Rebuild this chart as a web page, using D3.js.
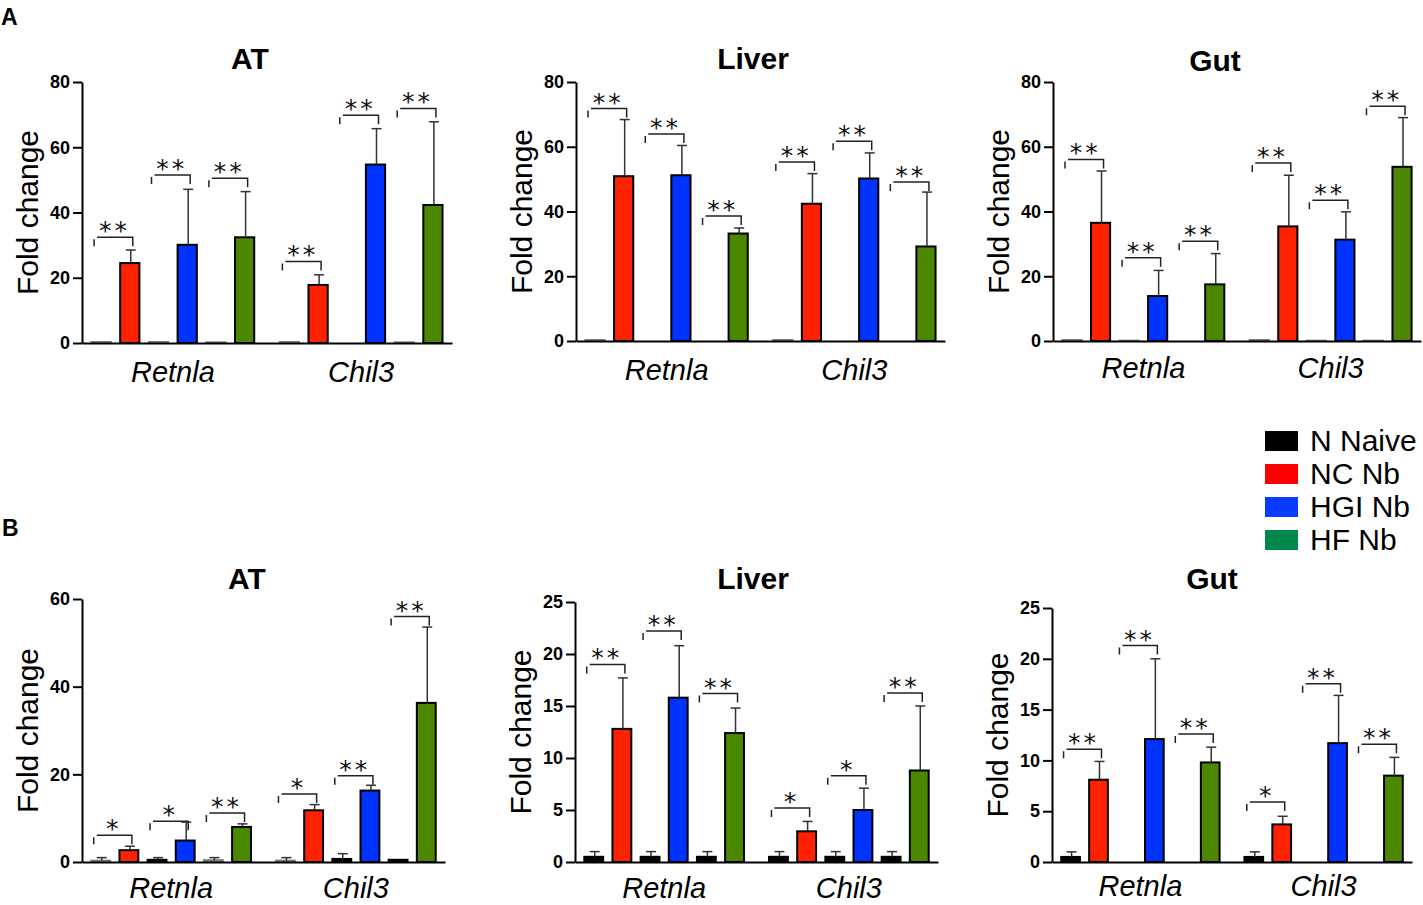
<!DOCTYPE html>
<html>
<head>
<meta charset="utf-8">
<script src="https://cdn.jsdelivr.net/npm/d3@7"></script>
<style>
  body { margin: 0; background: #fff; }
  svg { display: block; }
  text { font-family: "Liberation Sans", Arial, sans-serif; }
</style>
</head>
<body>
<div id="chart"></div>
<script>
// Categories
var genes = ["Retnla", "Chil3"];
var groupNames = ["N Naive", "NC Nb", "HGI Nb", "HF Nb"];
// bar order inside each gene: Naive, NC, Naive, HGI, Naive, HF
var barGroups = [0, 1, 0, 2, 0, 3];

var ticksA = [0, 20, 40, 60, 80];
var ticksBAt = [0, 20, 40, 60];
var ticksB = [0, 5, 10, 15, 20, 25];

// Panel A (12 values: Retnla x6 then Chil3 x6), bracket level, stars
var aAtMean = [0.3, 24.5, 0.3, 30.1, 0.2, 32.4, 0.3, 17.8, 0, 54.7, 0.2, 42.3];
var aAtErr = [0, 4.0, 0, 17.0, 0, 14.0, 0, 3.1, 0, 11.0, 0, 25.5];
var aAtSig = [32.4, 51.5, 50.5, 25.0, 69.8, 71.9];
var aAtStars = ["**", "**", "**", "**", "**", "**"];

var aLiverMean = [0.3, 50.9, 0, 51.2, 0, 33.2, 0.3, 42.4, 0, 50.2, 0, 29.2];
var aLiverErr = [0, 17.5, 0, 9.2, 0, 1.7, 0, 9.3, 0, 7.9, 0, 16.8];
var aLiverSig = [71.8, 63.9, 38.6, 55.3, 61.7, 49.1];
var aLiverStars = ["**", "**", "**", "**", "**", "**"];

var aGutMean = [0.3, 36.5, 0.1, 13.9, 0, 17.5, 0.3, 35.4, 0.1, 31.3, 0.1, 53.8];
var aGutErr = [0, 16.0, 0, 7.9, 0, 9.5, 0, 15.8, 0, 8.6, 0, 15.2];
var aGutSig = [56.1, 25.7, 30.8, 55.0, 43.5, 72.5];
var aGutStars = ["**", "**", "**", "**", "**", "**"];

// Panel B
var bAtMean = [0.3, 2.7, 0.5, 4.9, 0.4, 8.0, 0.3, 11.8, 0.7, 16.3, 0.5, 36.3];
var bAtErr = [0.7, 0.9, 0.5, 4.2, 0.6, 0.7, 0.7, 1.3, 1.2, 1.2, 0, 17.3];
var bAtSig = [6.1, 9.3, 11.2, 15.5, 19.7, 56.0];
var bAtStars = ["*", "*", "**", "*", "**", "**"];

var bLiverMean = [0.5, 12.8, 0.5, 15.8, 0.5, 12.4, 0.5, 2.95, 0.5, 5.0, 0.5, 8.8];
var bLiverErr = [0.5, 4.9, 0.5, 5.0, 0.5, 2.4, 0.5, 0.95, 0.5, 2.1, 0.5, 6.2];
var bLiverSig = [19.0, 22.2, 16.2, 5.2, 8.3, 16.25];
var bLiverStars = ["**", "**", "**", "*", "*", "**"];

var bGutMean = [0.5, 8.1, 0, 12.1, 0, 9.8, 0.5, 3.7, 0, 11.7, 0, 8.5];
var bGutErr = [0.5, 1.8, 0, 7.9, 0, 1.5, 0.5, 0.8, 0, 4.7, 0, 1.8];
var bGutSig = [11.1, 21.3, 12.6, 5.9, 17.55, 11.6];
var bGutStars = ["**", "**", "**", "*", "**", "**"];

var barColors = ["#000000", "#ff2200", "#0033ff", "#4b8700"];
var legendColors = ["#000000", "#ff0000", "#0a3cff", "#00884a"];

var width = 1423, height = 905;

var svg = d3.select("#chart").append("svg")
    .attr("width", width)
    .attr("height", height);

// Panel frames
var panels = [
    { title: "AT", titleX: 250, titleY: 69, x0: 82, x1: 452, y0: 343, y1: 82, max: 80, ticks: ticksA, labPad: 18,
      mean: aAtMean, err: aAtErr, sig: aAtSig, stars: aAtStars },
    { title: "Liver", titleX: 753, titleY: 69, x0: 576, x1: 945, y0: 341, y1: 82, max: 80, ticks: ticksA, labPad: 18,
      mean: aLiverMean, err: aLiverErr, sig: aLiverSig, stars: aLiverStars },
    { title: "Gut", titleX: 1215, titleY: 71, x0: 1053, x1: 1421, y0: 341, y1: 82, max: 80, ticks: ticksA, labPad: 16,
      mean: aGutMean, err: aGutErr, sig: aGutSig, stars: aGutStars },
    { title: "AT", titleX: 247, titleY: 589, x0: 82, x1: 445, y0: 862, y1: 599, max: 60, ticks: ticksBAt, labPad: 15,
      mean: bAtMean, err: bAtErr, sig: bAtSig, stars: bAtStars },
    { title: "Liver", titleX: 753, titleY: 589, x0: 575, x1: 938, y0: 862, y1: 602, max: 25, ticks: ticksB, labPad: 15,
      mean: bLiverMean, err: bLiverErr, sig: bLiverSig, stars: bLiverStars },
    { title: "Gut", titleX: 1212, titleY: 589, x0: 1052, x1: 1412, y0: 862, y1: 608, max: 25, ticks: ticksB, labPad: 13,
      mean: bGutMean, err: bGutErr, sig: bGutSig, stars: bGutStars }
];

panels.forEach(function (p) {
    var g = svg.append("g");

    var y = d3.scaleLinear().domain([0, p.max]).range([p.y0, p.y1]);
    var gx = d3.scaleBand().domain(genes).range([p.x0, p.x1]).paddingInner(0.035).paddingOuter(0);
    var bx = d3.scaleBand().domain(d3.range(6)).range([0, gx.bandwidth()]).padding(0.33);
    var bw = bx.bandwidth();

    var bars = [];
    genes.forEach(function (gene, gi) {
        barGroups.forEach(function (k, j) {
            var i = gi * 6 + j;
            bars.push({ gene: gene, slot: j, group: k, mean: p.mean[i], err: p.err[i] });
        });
    });
    function cx(gene, slot) { return gx(gene) + bx(slot) + bw / 2; }

    // Title
    g.append("text")
        .attr("x", p.titleX)
        .attr("y", p.titleY)
        .attr("text-anchor", "middle")
        .style("font-size", "30px")
        .style("font-weight", "bold")
        .text(p.title);

    // Bars
    g.selectAll(".bar")
        .data(bars.filter(function (d) { return d.mean > 0; }))
        .enter().append("rect")
        .attr("class", "bar")
        .attr("x", function (d) { return cx(d.gene, d.slot) - bw / 2; })
        .attr("width", bw)
        .attr("y", function (d) { return y(d.mean); })
        .attr("height", function (d) { return y(0) - y(d.mean); })
        .attr("fill", function (d) { return barColors[d.group]; })
        .attr("stroke", function (d) { return y(0) - y(d.mean) < 2 ? "#777" : "#000"; })
        .attr("stroke-width", 2);

    // Error bars (upper only)
    var eb = g.selectAll(".err")
        .data(bars.filter(function (d) { return d.err > 0; }))
        .enter().append("g")
        .attr("class", "err")
        .attr("stroke", "#333")
        .attr("stroke-width", 1.5);
    eb.append("line")
        .attr("x1", function (d) { return cx(d.gene, d.slot) + 1; })
        .attr("x2", function (d) { return cx(d.gene, d.slot) + 1; })
        .attr("y1", function (d) { return y(d.mean); })
        .attr("y2", function (d) { return y(d.mean + d.err); });
    eb.append("line")
        .attr("x1", function (d) { return cx(d.gene, d.slot) - 4; })
        .attr("x2", function (d) { return cx(d.gene, d.slot) + 6; })
        .attr("y1", function (d) { return y(d.mean + d.err); })
        .attr("y2", function (d) { return y(d.mean + d.err); });

    // Significance brackets
    var sigs = p.sig.map(function (v, k) {
        var gene = genes[Math.floor(k / 3)];
        var s = (k % 3) * 2;
        return { xa: cx(gene, s) - 7, xb: cx(gene, s + 1) + 3, level: v, stars: p.stars[k] };
    });
    g.selectAll(".bracket")
        .data(sigs)
        .enter().append("path")
        .attr("class", "bracket")
        .attr("fill", "none")
        .attr("stroke", "#222")
        .attr("stroke-width", 1.5)
        .attr("d", function (d) {
            var yy = y(d.level);
            return "M" + d.xa + "," + (yy + 9) + "V" + (yy + 2) +
                "M" + (d.xa + 3) + "," + yy + "H" + d.xb + "V" + (yy + 9);
        });
    g.selectAll(".stars")
        .data(sigs)
        .enter().append("text")
        .attr("class", "stars")
        .attr("x", function (d) { return (d.xa + d.xb) / 2 + 1; })
        .attr("y", function (d) { return y(d.level) + 2; })
        .attr("text-anchor", "middle")
        .style("font-family", "'DejaVu Sans', sans-serif")
        .style("font-size", "25px")
        .style("letter-spacing", "3px")
        .attr("fill", "#111")
        .text(function (d) { return d.stars; });

    // Y axis
    var yAxis = g.append("g")
        .attr("transform", "translate(" + p.x0 + ",0)")
        .call(d3.axisLeft(y).tickValues(p.ticks).tickSize(9).tickSizeOuter(0).tickPadding(3));
    yAxis.select(".domain").attr("stroke-width", 2);
    yAxis.selectAll(".tick line").attr("stroke-width", 2);
    yAxis.selectAll(".tick text")
        .attr("fill", "#000")
        .style("font-size", "18px")
        .style("font-weight", "bold")
        .style("font-family", "'Liberation Sans', Arial, sans-serif");

    // X axis with gene names
    var xAxis = g.append("g")
        .attr("transform", "translate(0," + p.y0 + ")")
        .call(d3.axisBottom(gx).tickSize(0).tickSizeOuter(0).tickPadding(p.labPad));
    xAxis.select(".domain").attr("stroke-width", 2.2);
    xAxis.selectAll(".tick text")
        .attr("fill", "#000")
        .style("font-size", "29px")
        .style("font-style", "italic")
        .style("font-family", "'Liberation Sans', Arial, sans-serif");

    // Y label
    g.append("text")
        .attr("transform", "translate(" + (p.x0 - 44) + "," + ((p.y0 + p.y1) / 2) + ") rotate(-90)")
        .attr("text-anchor", "middle")
        .style("font-size", "30px")
        .text("Fold change");
});

// Panel letters
svg.append("text").attr("x", 1).attr("y", 25)
    .style("font-size", "23px").style("font-weight", "bold").text("A");
svg.append("text").attr("x", 2).attr("y", 536)
    .style("font-size", "23px").style("font-weight", "bold").text("B");

// Legend
var legend = svg.append("g").attr("transform", "translate(1265,0)");
var rowY = d3.scaleLinear().domain([0, 3]).range([451, 550]);
var item = legend.selectAll(".item")
    .data(groupNames)
    .enter().append("g")
    .attr("class", "item")
    .attr("transform", function (d, i) { return "translate(0," + rowY(i) + ")"; });
item.append("rect")
    .attr("x", 0)
    .attr("y", -20)
    .attr("width", 33)
    .attr("height", 20)
    .attr("fill", function (d, i) { return legendColors[i]; });
item.append("text")
    .attr("x", 45)
    .attr("y", 0)
    .style("font-size", "30px")
    .text(function (d) { return d; });
</script>
</body>
</html>
